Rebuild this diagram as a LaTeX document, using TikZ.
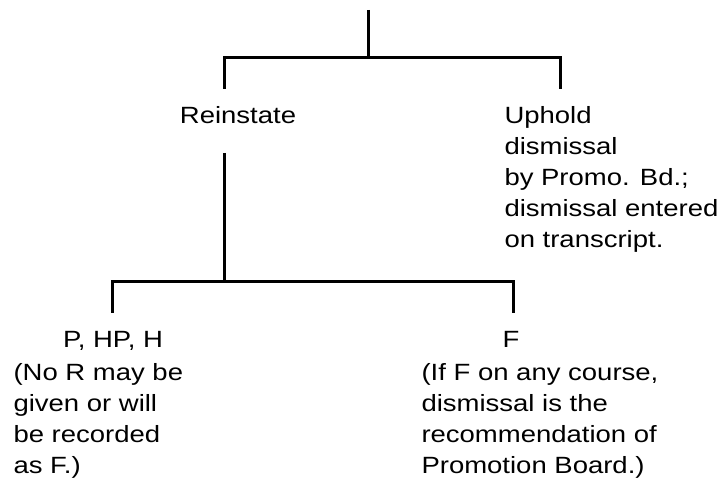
\documentclass[tikz,border=0pt]{standalone}
\usepackage{fontspec}
\setmainfont[FakeStretch=1.17]{Liberation Sans}
\usetikzlibrary{positioning}
\tikzset{lbl/.style={inner sep=0pt, font=\fontsize{23.5}{31}\selectfont},
         note/.style={lbl, align=left, anchor=base west}}

\begin{document}
\begin{tikzpicture}[x=1pt, y=1pt, line width=3pt]
        \useasboundingbox (0,0) rectangle (723,482);
        % Nodes
        \coordinate (top) at (368,472);
        \coordinate (split1) at (368,424);
        \coordinate (rdrop) at (224,393);
        \coordinate (udrop) at (560,393);
        \node[lbl, anchor=base] (reinstate) at (238,358) {Reinstate};
        % note nodes sit on the baseline of their last line
        \node[note] (uphold) at (503,234) {Uphold\\dismissal\\by Promo. Bd.;\\dismissal entered\\on transcript.};
        \coordinate (rstem) at (224,329);
        \coordinate (split2) at (224,200);
        \coordinate (pdrop) at (112,169);
        \coordinate (fdrop) at (513,169);
        \node[lbl, anchor=base] (pass) at (113,134) {P, HP, H};
        \node[note] (passnote) at (12,9) {(No R may be\\given or will\\be recorded\\as F.)};
        \node[lbl, anchor=base] (fail) at (511,134) {F};
        \node[note] (failnote) at (420,9) {(If F on any course,\\dismissal is the\\recommendation of\\Promotion Board.)};

        % Edges
        \draw (top) -- (split1);
        \draw (rdrop) |- (split1) -| (udrop);
        \draw (rstem) -- (split2);
        \draw (pdrop) |- (split2) -| (fdrop);
    \end{tikzpicture}
\end{document}
